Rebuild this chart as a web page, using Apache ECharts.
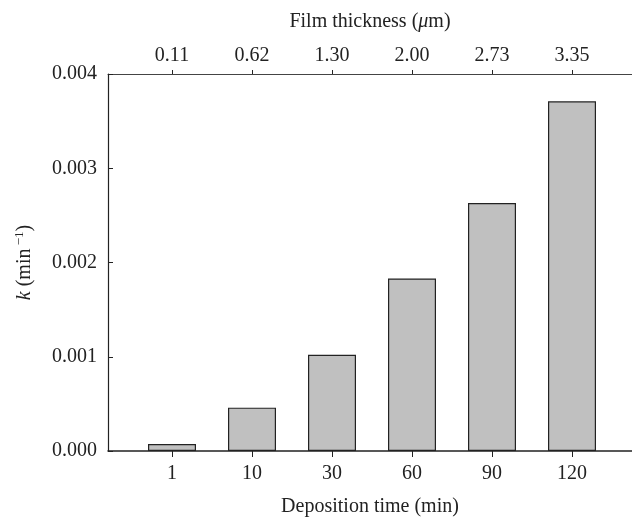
<!DOCTYPE html>
<html>
<head>
<meta charset="utf-8">
<script src="https://cdn.jsdelivr.net/npm/echarts@6/dist/echarts.min.js"></script>
<style>
  html, body { margin: 0; padding: 0; background: #fff; }
  #chart { width: 632px; height: 517px; }
</style>
</head>
<body>
<div id="chart"></div>
<script>
// deposition time categories (bottom axis) and film thickness (top axis)
var depositionTimes = ['1', '10', '30', '60', '90', '120'];
var thickness = ['0.11', '0.62', '1.30', '2.00', '2.73', '3.35'];
// rate constant k (min^-1)
var kValues = [0.000075, 0.00046, 0.00102, 0.00183, 0.00263, 0.00371];
var yTicks = [0, 0.001, 0.002, 0.003, 0.004];

var positions = depositionTimes.map(function (c, i) { return i + 1; });
var barData = positions.map(function (p, i) { return [p, kValues[i]]; });

var font = 'Liberation Serif';
var ink = '#222';

var myChart = echarts.init(document.getElementById('chart'));
var option = {
    animation: false,
    textStyle: { fontFamily: font, color: ink },
    grid: {
        left: 108,
        right: 0,
        top: 74,
        bottom: 66,
        outerBoundsMode: 'none'
    },
    xAxis: [{
        type: 'value',
        position: 'bottom',
        min: 0.2,
        max: 6.75,
        axisLine: { show: true, onZero: false, lineStyle: { color: ink, width: 1.5 } },
        axisTick: { show: true, length: 6, customValues: positions, lineStyle: { color: ink } },
        axisLabel: {
            customValues: positions,
            margin: 13,
            fontSize: 20,
            fontFamily: font,
            color: ink,
            formatter: function (v) { return depositionTimes[Math.round(v) - 1]; }
        },
        splitLine: { show: false },
        name: 'Deposition time (min)',
        nameLocation: 'middle',
        nameGap: 46,
        nameTextStyle: { fontSize: 20, fontFamily: font, color: ink }
    }, {
        type: 'value',
        position: 'top',
        min: 0.2,
        max: 6.75,
        axisLine: { show: true, onZero: false, lineStyle: { color: '#444', width: 1 } },
        axisTick: { show: true, length: 4, customValues: positions, lineStyle: { color: ink } },
        axisLabel: {
            customValues: positions,
            margin: 8,
            fontSize: 20,
            fontFamily: font,
            color: ink,
            formatter: function (v) { return thickness[Math.round(v) - 1]; }
        },
        splitLine: { show: false },
        name: '{n|Film thickness (}{i|μ}{n|m)}',
        nameLocation: 'middle',
        nameGap: 42,
        nameTextStyle: {
            rich: {
                n: { fontSize: 20, fontFamily: font, color: ink },
                i: { fontSize: 20, fontFamily: font, fontStyle: 'italic', color: ink }
            }
        }
    }],
    yAxis: {
        type: 'value',
        min: yTicks[0],
        max: yTicks[yTicks.length - 1],
        interval: 0.001,
        axisLine: { show: true, lineStyle: { color: ink, width: 1.2 } },
        axisTick: { show: true, inside: true, length: 5, lineStyle: { color: ink } },
        axisLabel: {
            margin: 11,
            fontSize: 20,
            fontFamily: font,
            color: ink,
            formatter: function (v) { return v.toFixed(3); }
        },
        splitLine: { show: false },
        name: '{i|k}{n| (min}{s| −1}{n|)}',
        nameLocation: 'middle',
        nameRotate: 90,
        nameGap: 72,
        nameTextStyle: {
            rich: {
                n: { fontSize: 20, fontFamily: font, color: ink },
                i: { fontSize: 20, fontFamily: font, fontStyle: 'italic', color: ink },
                s: { fontSize: 13, fontFamily: font, color: ink, verticalAlign: 'top', padding: [0, 0, 10, 0] }
            }
        }
    },
    series: [{
        type: 'bar',
        xAxisIndex: 0,
        barWidth: 48,
        itemStyle: { color: '#c0c0c0', borderColor: ink, borderWidth: 1.2 },
        data: barData
    }]
};
myChart.setOption(option);
</script>
</body>
</html>
